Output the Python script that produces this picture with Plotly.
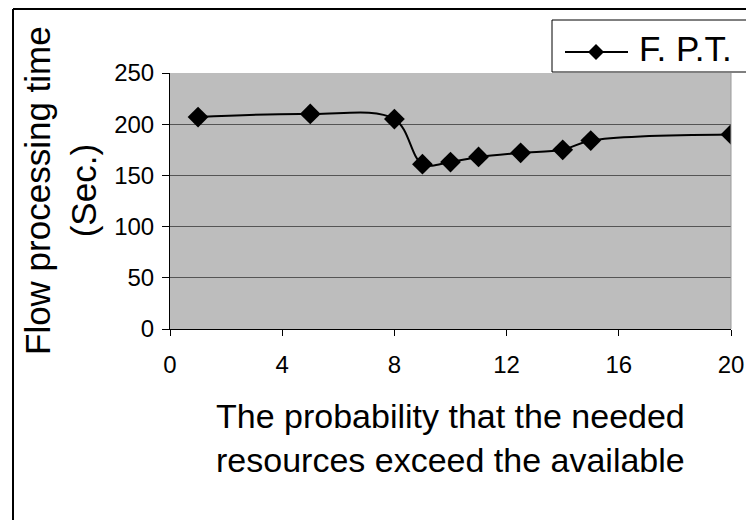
import plotly.graph_objects as go

# Flow processing time versus probability that needed resources exceed the available
probability = [1, 5, 8, 9, 10, 11, 12.5, 14, 15, 20]
fpt_seconds = [207, 210, 205, 161, 163, 168, 172, 175, 184, 190]
series_name = "F. P.T."
x_ticks = [0, 4, 8, 12, 16, 20]
y_ticks = [0, 50, 100, 150, 200, 250]

FONT = "Liberation Sans, Arial, sans-serif"
W, H = 746, 520
L, R, T, B = 170, 15, 73, 191
pw, ph = W - L - R, H - T - B


def px_x(px):
    return (px - L) / pw


def px_y(py):
    return (H - B - py) / ph


fig = go.Figure()
fig.add_trace(go.Scatter(
    x=probability, y=fpt_seconds, name=series_name,
    mode="lines+markers", showlegend=False,
    line=dict(color="black", width=2, shape="spline", smoothing=1.0),
    marker=dict(symbol="diamond", size=16, color="black"),
))

# legend box drawn by hand so the sample line can be long and the box can run off the edge
lx0, ly0, lx1, ly1 = 552, 20, 760, 72
sample_y = 52
sample_cx = 596
d = 8
legend_shapes = [
    dict(type="rect", xref="paper", yref="paper",
         x0=px_x(lx0), x1=px_x(lx1), y0=px_y(ly1), y1=px_y(ly0),
         fillcolor="white", line=dict(color="black", width=1)),
    dict(type="line", xref="paper", yref="paper",
         x0=px_x(565), x1=px_x(628), y0=px_y(sample_y), y1=px_y(sample_y),
         line=dict(color="black", width=2)),
    dict(type="path", xref="paper", yref="paper",
         path=(f"M{px_x(sample_cx - d)},{px_y(sample_y)} "
               f"L{px_x(sample_cx)},{px_y(sample_y - d)} "
               f"L{px_x(sample_cx + d)},{px_y(sample_y)} "
               f"L{px_x(sample_cx)},{px_y(sample_y + d)} Z"),
         fillcolor="black", line=dict(color="black", width=0)),
]

fig.update_layout(
    width=W, height=H,
    margin=dict(l=L, r=R, t=T, b=B, autoexpand=False),
    paper_bgcolor="white",
    plot_bgcolor="#bdbdbd",
    font=dict(family=FONT, color="black"),
    showlegend=False,
    xaxis=dict(
        range=[0, 20], tickvals=x_ticks, ticks="outside", ticklen=6,
        tickcolor="black", showline=True, linecolor="black", linewidth=1,
        showgrid=False, zeroline=False, tickfont=dict(size=24),
        ticklabelstandoff=8, automargin=False,
    ),
    yaxis=dict(
        range=[0, 250], tickvals=y_ticks, ticks="outside", ticklen=7,
        tickcolor="black", showline=True, linecolor="black", linewidth=1,
        showgrid=True, gridcolor="#555555", gridwidth=1, zeroline=False,
        tickfont=dict(size=24), ticklabelstandoff=3, automargin=False,
    ),
    shapes=[
        # outer frame, top and left edges
        dict(type="line", xref="paper", yref="paper", x0=px_x(13), x1=px_x(W + 5),
             y0=px_y(9), y1=px_y(9), line=dict(color="black", width=2)),
        dict(type="line", xref="paper", yref="paper", x0=px_x(13), x1=px_x(13),
             y0=px_y(9), y1=px_y(H + 5), line=dict(color="black", width=2)),
        # light edge on the right of the plot area
        dict(type="line", xref="paper", yref="paper", x0=1, x1=1, y0=0, y1=1,
             line=dict(color="#9a9a9a", width=1)),
    ] + legend_shapes,
    annotations=[
        dict(text="Flow processing time<br>(Sec.)", textangle=-90,
             xref="paper", yref="paper", x=px_x(60), y=px_y(191),
             xanchor="center", yanchor="middle", showarrow=False,
             font=dict(size=35, family=FONT)),
        dict(text="The probability that the needed<br>resources exceed the available",
             xref="paper", yref="paper", x=px_x(450), y=px_y(438),
             xanchor="center", yanchor="middle", showarrow=False,
             font=dict(size=34, family=FONT)),
        dict(text=series_name, xref="paper", yref="paper",
             x=px_x(637), y=px_y(48), xanchor="left", yanchor="middle",
             showarrow=False, font=dict(size=35, family=FONT)),
    ],
)

fig.write_html("out.html")
